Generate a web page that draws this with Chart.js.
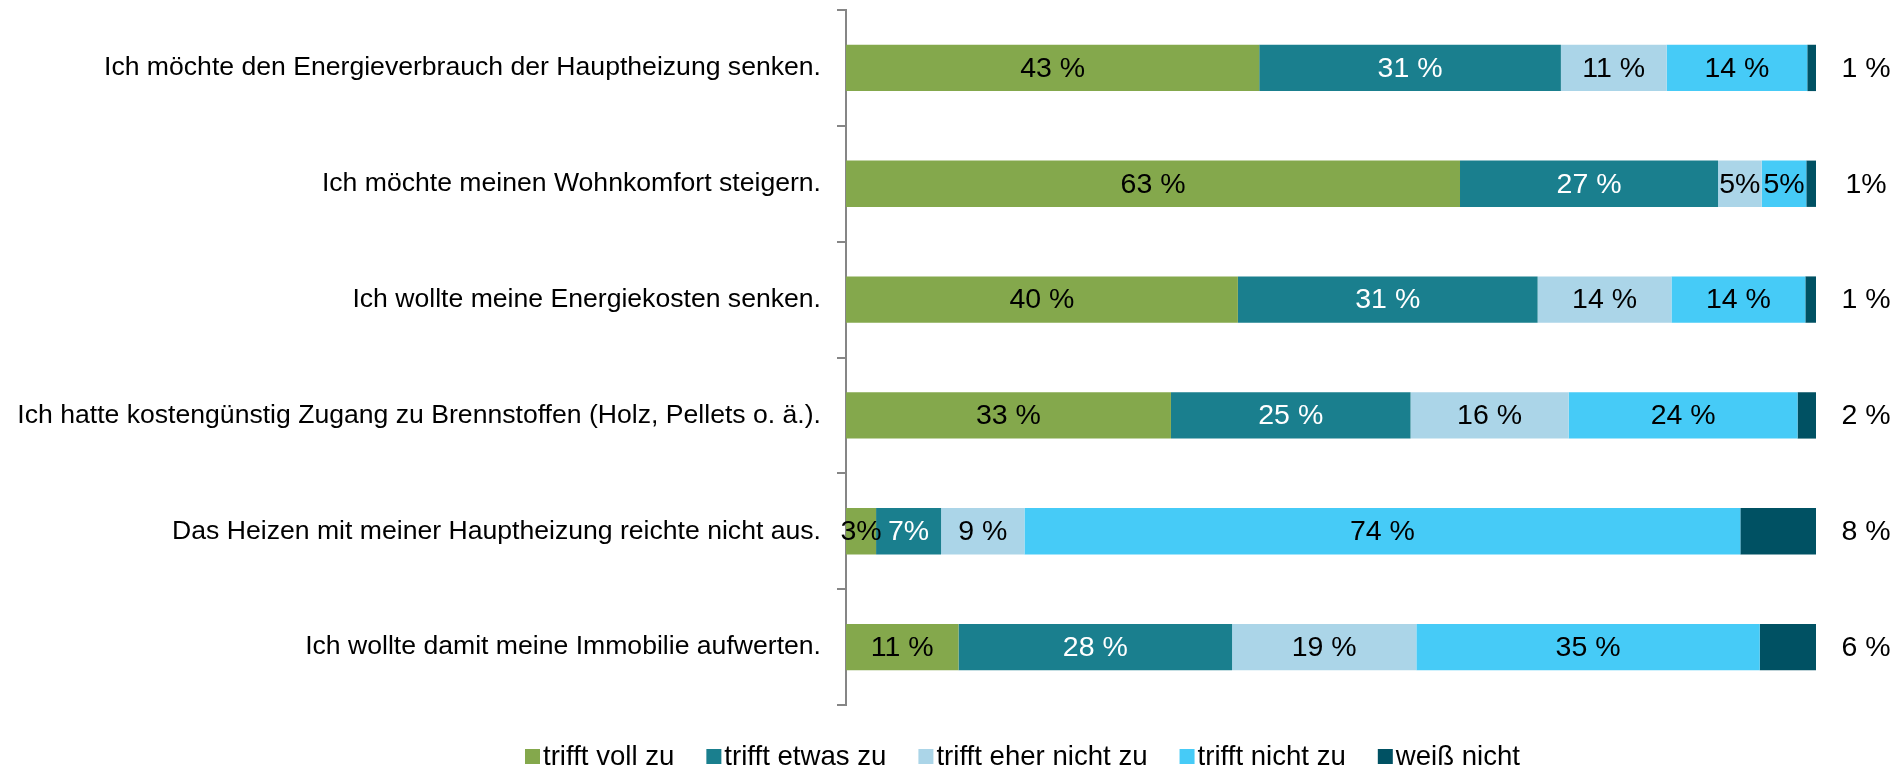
<!DOCTYPE html>
<html>
<head>
<meta charset="utf-8">
<script src="https://cdn.jsdelivr.net/npm/chart.js"></script>
<style>
html, body { margin: 0; padding: 0; background: #fff; overflow: hidden; }
</style>
</head>
<body>
<canvas id="myChart" width="1901" height="768"></canvas>
<script>
// categories (top to bottom)
const categories = [
    'Ich möchte den Energieverbrauch der Hauptheizung senken.',
    'Ich möchte meinen Wohnkomfort steigern.',
    'Ich wollte meine Energiekosten senken.',
    'Ich hatte kostengünstig Zugang zu Brennstoffen (Holz, Pellets o. ä.).',
    'Das Heizen mit meiner Hauptheizung reichte nicht aus.',
    'Ich wollte damit meine Immobilie aufwerten.'
];
const series_names = ['trifft voll zu', 'trifft etwas zu', 'trifft eher nicht zu', 'trifft nicht zu', 'weiß nicht'];

// shares in percent
const voll_zu       = [42.6, 63.3, 40.4, 33.5, 3.1, 11.6];
const etwas_zu      = [31.1, 26.6, 30.9, 24.7, 6.7, 28.2];
const eher_nicht_zu = [10.9, 4.5, 13.8, 16.3, 8.6, 19.0];
const nicht_zu      = [14.5, 4.6, 13.8, 23.6, 73.8, 35.4];
const weiss_nicht   = [0.9, 1.0, 1.1, 1.9, 7.8, 5.8];

// printed labels as they appear on the chart
const voll_txt  = ['43 %', '63 %', '40 %', '33 %', '3%', '11 %'];
const etwas_txt = ['31 %', '27 %', '31 %', '25 %', '7%', '28 %'];
const eher_txt  = ['11 %', '5%', '14 %', '16 %', '9 %', '19 %'];
const nicht_txt = ['14 %', '5%', '14 %', '24 %', '74 %', '35 %'];
const weiss_txt = ['1 %', '1%', '1 %', '2 %', '8 %', '6 %'];

const colors = ['#84A84C', '#1A7F8E', '#ABD5E8', '#46CBF7', '#005163'];
const FONT = '"Liberation Sans", Arial, sans-serif';

// value labels inside the segments, last one outside the bar
const segLabels = {
    id: 'segLabels',
    afterDatasetsDraw(chart) {
        const ctx = chart.ctx;
        ctx.save();
        ctx.font = '28.5px ' + FONT;
        ctx.textBaseline = 'middle';
        ctx.textAlign = 'center';
        chart.data.datasets.forEach((ds, i) => {
            const meta = chart.getDatasetMeta(i);
            meta.data.forEach((bar, j) => {
                let x = (bar.x + bar.base) / 2;
                if (ds.outside) x = bar.x + 50;
                ctx.fillStyle = ds.txtColor;
                ctx.fillText(ds.txt[j], x, bar.y + 1);
            });
        });
        ctx.restore();
    }
};

// legend drawn by hand so the box sits close to the text
const bottomLegend = {
    id: 'bottomLegend',
    afterDraw(chart) {
        const ctx = chart.ctx;
        ctx.save();
        ctx.font = '27.6px ' + FONT;
        ctx.textBaseline = 'middle';
        ctx.textAlign = 'left';
        let x = 525;
        const y = 756;
        chart.data.datasets.forEach(ds => {
            ctx.fillStyle = ds.backgroundColor;
            ctx.fillRect(x, y - 7, 15, 15);
            x += 18;
            ctx.fillStyle = '#000';
            ctx.fillText(ds.label, x, y + 1);
            x += ctx.measureText(ds.label).width + 32;
        });
        ctx.restore();
    }
};

const values = [voll_zu, etwas_zu, eher_nicht_zu, nicht_zu, weiss_nicht];
const texts = [voll_txt, etwas_txt, eher_txt, nicht_txt, weiss_txt];
const txtColors = ['#000', '#fff', '#000', '#000', '#000'];

let ct = document.getElementById('myChart').getContext('2d');
let myChart = new Chart(ct, {
    type: 'bar',
    data: {
        labels: categories,
        datasets: series_names.map((name, i) => ({
            label: name,
            data: values[i],
            backgroundColor: colors[i],
            borderWidth: 0,
            categoryPercentage: 0.5,
            barPercentage: 0.8,
            txt: texts[i],
            txtColor: txtColors[i],
            outside: i === 4
        }))
    },
    options: {
        indexAxis: 'y',
        responsive: false,
        animation: false,
        devicePixelRatio: 1,
        layout: {
            padding: { top: 10, bottom: 63, right: 85, left: 0 }
        },
        scales: {
            x: {
                stacked: true,
                display: false,
                min: 0,
                max: 100
            },
            y: {
                stacked: true,
                afterFit: s => {
                    s.width = 846;
                    s.paddingTop = 0;
                    s.paddingBottom = 0;
                },
                border: { display: true, color: '#868686', width: 2 },
                grid: {
                    offset: true,
                    drawOnChartArea: false,
                    drawTicks: true,
                    tickLength: 9,
                    color: '#868686',
                    lineWidth: 2
                },
                ticks: {
                    color: '#000',
                    padding: 16,
                    font: { family: FONT, size: 26.6 }
                }
            }
        },
        plugins: {
            legend: { display: false },
            tooltip: { enabled: false }
        }
    },
    plugins: [segLabels, bottomLegend]
});
</script>
</body>
</html>
